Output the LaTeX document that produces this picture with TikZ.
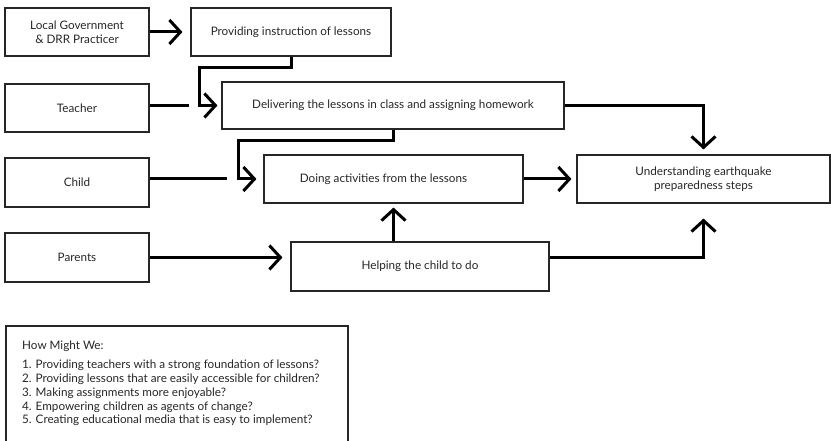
\documentclass[tikz,border=0pt]{standalone}
\usepackage{fontspec}
\setmainfont{Lato}
\usetikzlibrary{arrows.meta}
\begin{document}
\begin{tikzpicture}[x=1pt,y=-1pt,
        box/.style={draw=black!85,line width=1.1pt,text=black!85,align=center,inner sep=0pt,
            font=\fontsize{11.7}{14}\selectfont},
        flow/.style={line width=3pt,-{Straight Barb[length=11pt,width=24pt]}},
        link/.style={line width=3pt}]
        \useasboundingbox (0,0) rectangle (831,441);
        \node[box,minimum width=144pt,minimum height=48pt] (gov) at (77,32) {Local Government\\\& DRR Practicer};
        \node[box,minimum width=200pt,minimum height=48pt] (instr) at (291,32) {Providing instruction of lessons};
        \node[box,minimum width=144pt,minimum height=48pt] (teacher) at (77,108) {Teacher};
        \node[box,minimum width=342pt,minimum height=47pt] (deliver) at (393,105.5) {Delivering the lessons in class and assigning homework};
        \node[box,minimum width=144pt,minimum height=49pt] (child) at (77,182.5) {Child};
        \node[box,minimum width=259pt,minimum height=48pt] (doing) at (393.5,179) {Doing activities from the lessons\hspace*{20pt}};
        \node[box,minimum width=253pt,minimum height=48pt] (understand) at (703.5,179) {Understanding earthquake\\preparedness steps};
        \node[box,minimum width=144pt,minimum height=49pt] (parents) at (77,257.5) {Parents};
        \node[box,minimum width=258pt,minimum height=49pt] (helping) at (420,266.5) {Helping the child to do};
        \coordinate (tstop) at (189,105.5);
        \coordinate (cstop) at (227,179);
        \coordinate (bend1) at (199,68);
        \coordinate (bend2) at (238,141);
        \draw[flow,shorten >=8pt] (gov) -- (instr);
        \draw[link] (teacher.east |- tstop) -- (tstop);
        \draw[flow,shorten >=4pt] (instr.south) |- (bend1) |- (deliver.west);
        \draw[flow,shorten >=7pt] (deliver.south) |- (bend2) |- (doing.west);
        \draw[link] (child.east |- cstop) -- (cstop);
        \draw[flow,shorten >=8pt] (parents.east) -- (parents.east -| helping.west);
        \draw[flow,shorten >=4pt] (doing.south |- helping.north) -- (doing.south);
        \draw[flow,shorten >=5pt] (doing) -- (understand);
        \draw[flow,shorten >=5pt] (deliver.east) -| (understand.north);
        \draw[flow,shorten >=15pt] ([yshift=8.5pt]helping.east) -| (understand.south);
        \node[anchor=north west,align=left,inner sep=0pt,text=black!85,
            font=\fontsize{11.7}{13.8}\selectfont] (hmw) at (22,341) {How Might We:\\[5pt]
            1. Providing teachers with a strong foundation of lessons?\\
            2. Providing lessons that are easily accessible for children?\\
            3. Making assignments more enjoyable?\\
            4. Empowering children as agents of change?\\
            5. Creating educational media that is easy to implement?};
        \draw[line width=1.1pt,draw=black!85] (6,441) |- (348,326) -- (348,441);
    \end{tikzpicture}
\end{document}
